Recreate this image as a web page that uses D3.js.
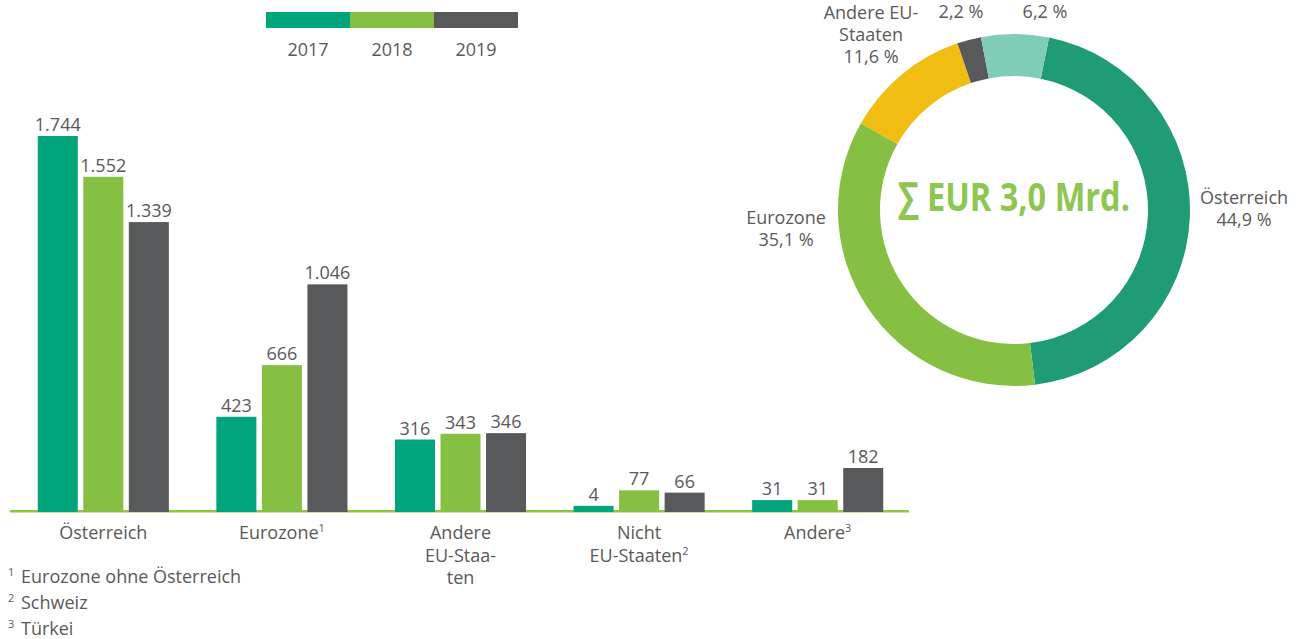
<!DOCTYPE html>
<html>
<head>
<meta charset="utf-8">
<script src="https://cdn.jsdelivr.net/npm/d3@7"></script>
<style>
  body { margin: 0; background: #fff; }
  text { font-family: "Open Sans", sans-serif; fill: #595959; }
</style>
</head>
<body>
<div id="chart-area"></div>
<script>
// Data
var years = ["2017", "2018", "2019"];
var categories = ["Österreich", "Eurozone", "Andere EU-Staaten", "Nicht EU-Staaten", "Andere"];
var catLines = [["Österreich"], ["Eurozone"], ["Andere", "EU-Staa-", "ten"], ["Nicht", "EU-Staaten"], ["Andere"]];
var catNotes = ["", "1", "", "2", "3"];
var values2017 = [1744, 423, 316, 4, 31];
var values2018 = [1552, 666, 343, 77, 31];
var values2019 = [1339, 1046, 346, 66, 182];
var valueLabels = [
  ["1.744", "423", "316", "4", "31"],
  ["1.552", "666", "343", "77", "31"],
  ["1.339", "1.046", "346", "66", "182"]
];
var footnotes = [["1", "Eurozone ohne Österreich"], ["2", "Schweiz"], ["3", "Türkei"]];

var donutNames = [["Österreich"], ["Eurozone"], ["Andere EU-", "Staaten"], [], []];
var donutShares = [44.9, 35.1, 11.6, 2.2, 6.2];
var donutLabels = ["44,9 %", "35,1 %", "11,6 %", "2,2 %", "6,2 %"];
var totalLabel = "∑ EUR 3,0 Mrd.";

var yearColors = ["#00A57C", "#86C043", "#58595B"];
var donutColors = ["#1F9B76", "#86C043", "#F2BD12", "#58595B", "#7FCDB6"];

var width = 1302, height = 639;

var svg = d3.select("#chart-area").append("svg")
    .attr("width", width)
    .attr("height", height);

// Scales
var x0 = d3.scaleBand().domain(categories).range([14, 907])
    .paddingInner(0.266).paddingOuter(0.133);
var x1 = d3.scaleBand().domain(years).range([0, x0.bandwidth()])
    .paddingInner(0.121).paddingOuter(0);
var y = d3.scaleLinear().domain([-25, 1744]).range([512, 136]);

var series = [values2017, values2018, values2019];

// Baseline
svg.append("line")
    .attr("x1", 10).attr("x2", 909)
    .attr("y1", y(-25) - 0.8).attr("y2", y(-25) - 0.8)
    .attr("stroke", "#8DC63F")
    .attr("stroke-width", 2.6);

// Bars
var groups = svg.selectAll(".grp")
    .data(categories)
    .enter().append("g")
    .attr("class", "grp")
    .attr("transform", function(d) { return "translate(" + x0(d) + ",0)"; });

years.forEach(function(yr, j) {
    groups.append("rect")
        .attr("x", x1(yr))
        .attr("width", x1.bandwidth())
        .attr("y", function(d, i) { return y(series[j][i]); })
        .attr("height", function(d, i) { return y(-25) - y(series[j][i]); })
        .attr("fill", yearColors[j]);
    groups.append("text")
        .attr("x", x1(yr) + x1.bandwidth() / 2)
        .attr("y", function(d, i) { return y(series[j][i]) - 5; })
        .attr("text-anchor", "middle")
        .attr("font-size", "18px")
        .text(function(d, i) { return valueLabels[j][i]; });
});

// Category labels
categories.forEach(function(c, i) {
    var t = svg.append("text")
        .attr("x", x0(c) + x0.bandwidth() / 2)
        .attr("y", 539)
        .attr("text-anchor", "middle")
        .attr("font-size", "18px");
    var lines = catLines[i];
    lines.forEach(function(l, k) {
        var sp = t.append("tspan")
            .attr("x", x0(c) + x0.bandwidth() / 2)
            .attr("y", 539 + k * 22.5)
            .text(l);
        if (k === lines.length - 1 && catNotes[i]) {
            sp.append("tspan")
                .attr("font-size", "11px")
                .attr("dy", -7)
                .text(catNotes[i]);
        }
    });
});

// Footnotes
footnotes.forEach(function(f, i) {
    var yy = 583 + i * 26;
    svg.append("text")
        .attr("x", 8).attr("y", yy - 7)
        .attr("font-size", "11px")
        .text(f[0]);
    svg.append("text")
        .attr("x", 21).attr("y", yy)
        .attr("font-size", "18px")
        .text(f[1]);
});

// Legend
var legend = svg.append("g");
years.forEach(function(yr, j) {
    legend.append("rect")
        .attr("x", 266 + j * 84).attr("y", 12)
        .attr("width", 84).attr("height", 16)
        .attr("fill", yearColors[j]);
    legend.append("text")
        .attr("x", 266 + j * 84 + 42).attr("y", 56)
        .attr("text-anchor", "middle")
        .attr("font-size", "18px")
        .text(yr);
});

// Donut
var cx = 1014, cy = 210;
var start = 11.5 * Math.PI / 180;
var pie = d3.pie().sort(null).startAngle(start).endAngle(start + 2 * Math.PI);
var arc = d3.arc().innerRadius(134).outerRadius(176);

var donut = svg.append("g").attr("transform", "translate(" + cx + "," + cy + ")");
donut.selectAll("path")
    .data(pie(donutShares))
    .enter().append("path")
    .attr("d", arc)
    .attr("fill", function(d, i) { return donutColors[i]; });

donut.append("text")
    .attr("x", 0).attr("y", 1)
    .attr("text-anchor", "middle")
    .attr("font-size", "40px")
    .attr("font-weight", "bold")
    .attr("textLength", 232)
    .attr("lengthAdjust", "spacingAndGlyphs")
    .style("fill", "#8DC651")
    .text(totalLabel);

// Donut labels (label block: center x, first baseline)
var donutLabelPos = [[1244, 204], [786, 224], [871, 19], [961, 18], [1045, 18]];
donutShares.forEach(function(s, i) {
    var t = svg.append("text")
        .attr("text-anchor", "middle")
        .attr("font-size", "18px");
    var lines = donutNames[i].concat([donutLabels[i]]);
    lines.forEach(function(l, k) {
        t.append("tspan")
            .attr("x", donutLabelPos[i][0])
            .attr("y", donutLabelPos[i][1] + k * 22)
            .text(l);
    });
});
</script>
</body>
</html>
